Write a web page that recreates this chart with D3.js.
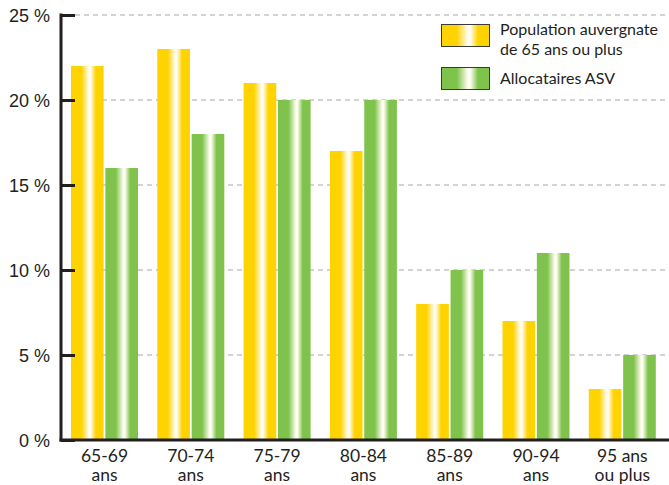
<!DOCTYPE html>
<html>
<head>
<meta charset="utf-8">
<script src="https://cdn.jsdelivr.net/npm/d3@7"></script>
<style>
  html, body { margin: 0; padding: 0; background: #fff; }
  svg { display: block; font-family: "Lato", "Open Sans", sans-serif; }
</style>
</head>
<body>
<svg id="chart" width="669" height="485"></svg>
<script>
// Age groups (two-line labels) and shares in percent
const categories = ["65-69 ans", "70-74 ans", "75-79 ans", "80-84 ans", "85-89 ans", "90-94 ans", "95 ans ou plus"];
const categoryLines = [["65-69", "ans"], ["70-74", "ans"], ["75-79", "ans"], ["80-84", "ans"], ["85-89", "ans"], ["90-94", "ans"], ["95 ans", "ou plus"]];
const population = [22, 23, 21, 17, 8, 7, 3];
const allocataires = [16, 18, 20, 20, 10, 11, 5];
const legendLines = [["Population auvergnate", "de 65 ans ou plus"], ["Allocataires ASV"]];
const yTicks = [0, 5, 10, 15, 20, 25];

const svg = d3.select("#chart");
const axisX = 61, plotTop = 15, plotBottom = 440, plotRight = 669;

const y = d3.scaleLinear().domain([0, 25]).range([plotBottom, plotTop]);
const x = d3.scaleBand().domain(categories).range([71, 71 + 86.3 * 7]).paddingInner(0).paddingOuter(0);
const inner = d3.scaleBand().domain(["pop", "asv"]).range([0, 67]).paddingInner(0.05);

// Horizontal shine gradients for the bars
const defs = svg.append("defs");
function shine(id, base) {
  const g = defs.append("linearGradient").attr("id", id).attr("x1", "0%").attr("x2", "100%").attr("y1", "0%").attr("y2", "0%");
  [[0, base], [0.32, base], [0.55, "#fffdf2"], [0.60, "#fffdf2"], [0.76, base], [1, base]]
    .forEach(([o, c]) => g.append("stop").attr("offset", o).attr("stop-color", c));
}
shine("gYellow", "#ffd300");
shine("gGreen", "#80c34c");

// Dashed gridlines
svg.append("g").selectAll("line").data(yTicks.filter(d => d > 0)).join("line")
  .attr("x1", 75).attr("x2", plotRight)
  .attr("y1", d => y(d)).attr("y2", d => y(d))
  .attr("stroke", "#a8a8a8").attr("stroke-width", 1.2).attr("stroke-dasharray", "5,4");

// Bars
const groups = svg.append("g").selectAll("g").data(categories).join("g")
  .attr("transform", d => `translate(${x(d)},0)`);
groups.append("rect")
  .attr("x", inner("pop")).attr("width", inner.bandwidth())
  .attr("y", (d, i) => y(population[i])).attr("height", (d, i) => plotBottom - y(population[i]))
  .attr("fill", "url(#gYellow)");
groups.append("rect")
  .attr("x", inner("asv")).attr("width", inner.bandwidth())
  .attr("y", (d, i) => y(allocataires[i])).attr("height", (d, i) => plotBottom - y(allocataires[i]))
  .attr("fill", "url(#gGreen)");

// Y axis with short ticks
const yAxis = d3.axisLeft(y).tickValues(yTicks).tickSize(-14).tickPadding(0).tickFormat(d => d + " %");
const gy = svg.append("g").attr("transform", `translate(${axisX},0)`).call(yAxis);
gy.select(".domain").remove();
gy.selectAll(".tick line").attr("stroke", "#231f20").attr("stroke-width", 3);
gy.selectAll(".tick text").attr("x", -11).attr("dy", "0.35em")
  .attr("font-size", 18).attr("fill", "#231f20").attr("text-anchor", "end");
svg.append("line").attr("x1", axisX).attr("x2", axisX).attr("y1", plotTop - 1.5).attr("y2", plotBottom + 1.5)
  .attr("stroke", "#231f20").attr("stroke-width", 3);
svg.append("line").attr("x1", axisX - 1.5).attr("x2", plotRight).attr("y1", plotBottom).attr("y2", plotBottom)
  .attr("stroke", "#231f20").attr("stroke-width", 3);

// Category labels
const lab = svg.append("g").selectAll("text").data(categories).join("text")
  .attr("text-anchor", "middle").attr("font-size", 17.5).attr("fill", "#231f20")
  .attr("x", d => x(d) + 33.5)
  .attr("y", 462);
lab.selectAll("tspan").data((d, i) => categoryLines[i]).join("tspan")
  .attr("x", function () { return d3.select(this.parentNode).attr("x"); })
  .attr("dy", (d, j) => j === 0 ? 0 : 19)
  .text(d => d);

// Legend
const legend = svg.append("g");
legend.append("rect").attr("x", 430).attr("y", 18).attr("width", 239).attr("height", 78).attr("fill", "#fff");
legend.append("rect").attr("x", 441.5).attr("y", 24.5).attr("width", 48).attr("height", 22)
  .attr("fill", "url(#gYellow)").attr("stroke", "#3a3a3a").attr("stroke-width", 1);
legend.append("rect").attr("x", 441.5).attr("y", 67.5).attr("width", 48).attr("height", 22)
  .attr("fill", "url(#gGreen)").attr("stroke", "#3a3a3a").attr("stroke-width", 1);
const legendText = legend.selectAll("text").data(legendLines).join("text")
  .attr("x", 500).attr("y", (d, i) => i === 0 ? 35 : 84)
  .attr("font-size", 16).attr("fill", "#231f20");
legendText.selectAll("tspan").data(d => d).join("tspan")
  .attr("x", 500).attr("dy", (d, j) => j === 0 ? 0 : 20).text(d => d);
</script>
</body>
</html>
